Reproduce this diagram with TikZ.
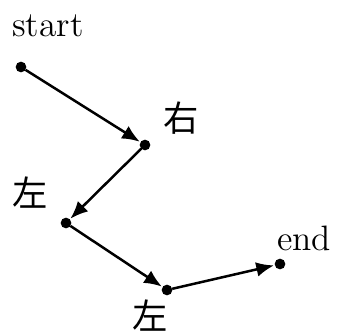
\documentclass[tikz,border=0pt]{standalone}
\usepackage{fontspec}
\newfontfamily\cjk{Noto Sans CJK SC}
\usetikzlibrary{arrows.meta}

\begin{document}
\begin{tikzpicture}
[
	x=0.34pt, y=-0.34pt,
	dotpt/.style={circle,draw,fill,inner sep=0pt,minimum size=3.2pt},
	walk/.style={-{Latex[length=6pt,width=5pt]},line width=0.85pt,shorten >=0.3pt},
	lbl/.style={inner sep=0pt,font=\large},
	cjklbl/.style={inner sep=0pt,font=\large\cjk}
]
	\useasboundingbox (0,0) rectangle (339,331);

	% points
	\node[dotpt] at (21,67) (p0) {};
	\node[dotpt] at (145,145) (p1) {};
	\node[dotpt] at (66,223) (p2) {};
	\node[dotpt] at (167,290) (p3) {};
	\node[dotpt] at (280,264) (p4) {};

	% labels
	\node[lbl] at (48,26) (l0) {start};
	\node[cjklbl] at (181,118) (l1) {右};
	\node[cjklbl] at (30,193) (l2) {左};
	\node[cjklbl] at (150,316) (l3) {左};
	\node[lbl] at (304,238) (l4) {end};

	% steps
	\draw[walk] (p0) -- (p1);
	\draw[walk] (p1) -- (p2);
	\draw[walk] (p2) -- (p3);
	\draw[walk] (p3) -- (p4);

\end{tikzpicture}
\end{document}
